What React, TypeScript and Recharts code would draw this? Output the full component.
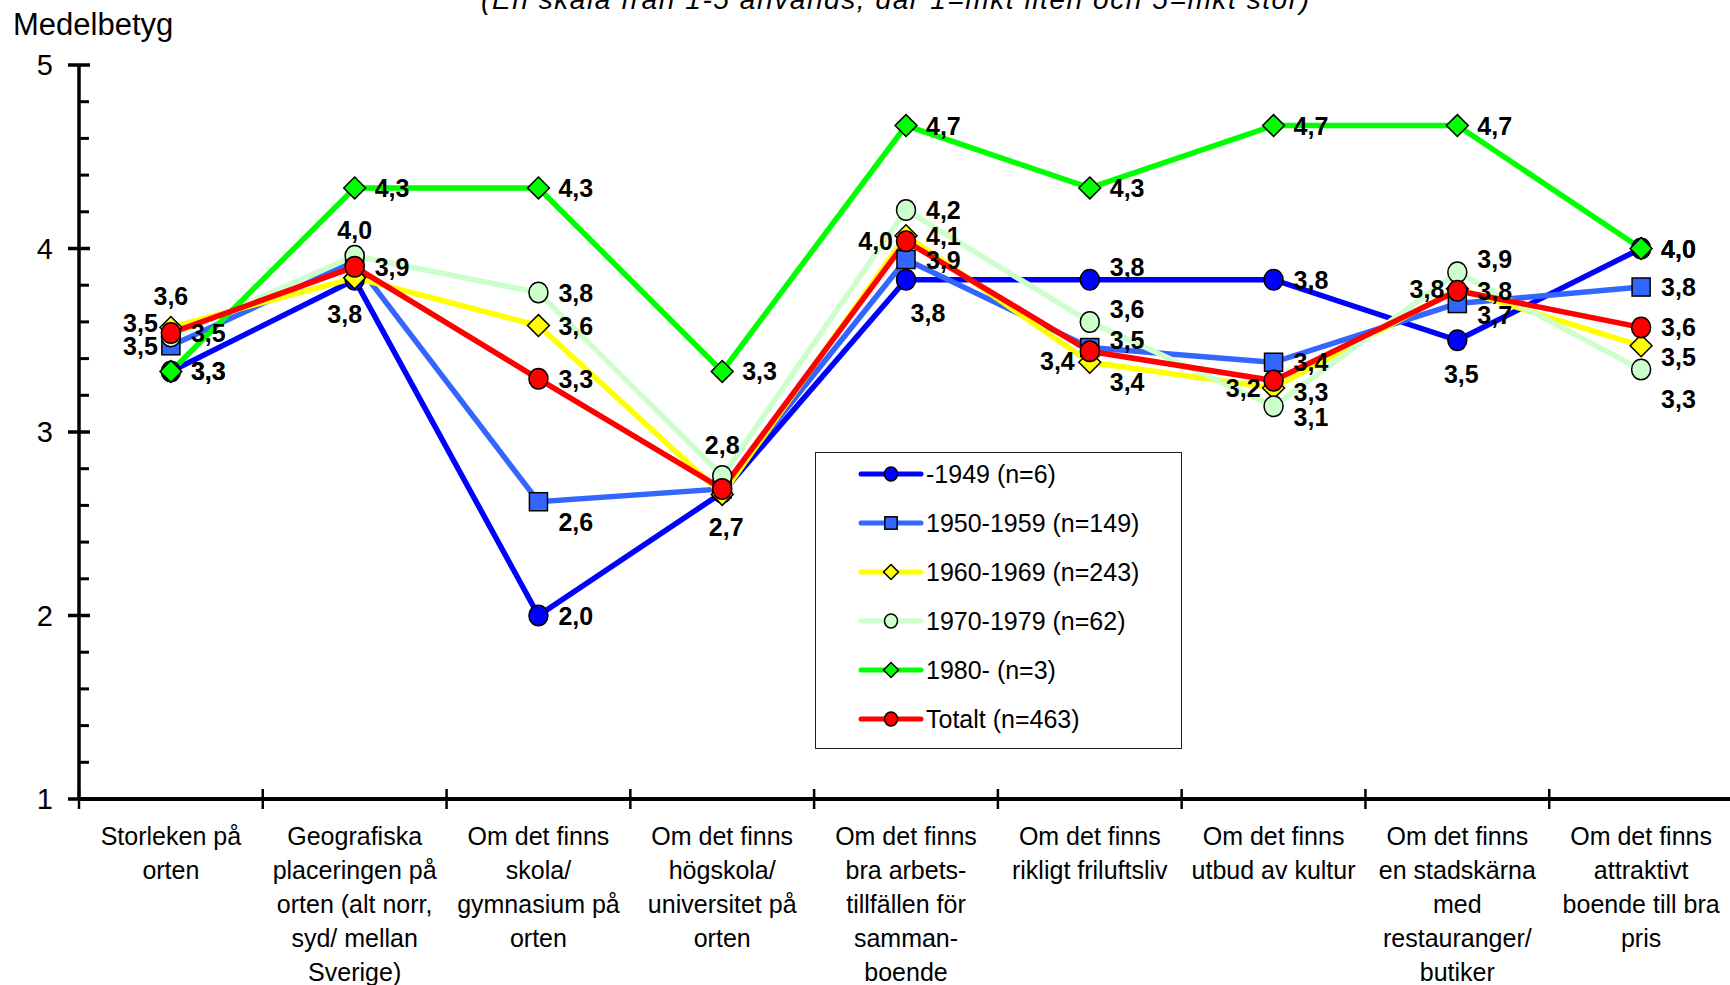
import { LabelList, Legend, Line, LineChart, XAxis, YAxis } from "recharts";

const FONT = '"Liberation Sans", Arial, sans-serif';

const CATEGORIES = [
  "Storleken på\norten",
  "Geografiska\nplaceringen på\norten (alt norr,\nsyd/ mellan\nSverige)",
  "Om det finns\nskola/\ngymnasium på\norten",
  "Om det finns\nhögskola/\nuniversitet på\norten",
  "Om det finns\nbra arbets-\ntillfällen för\nsamman-\nboende",
  "Om det finns\nrikligt friluftsliv",
  "Om det finns\nutbud av kultur",
  "Om det finns\nen stadskärna\nmed\nrestauranger/\nbutiker",
  "Om det finns\nattraktivt\nboende till bra\npris",
];

const SERIES_1949 = [3.33, 3.83, 2.0, 2.67, 3.83, 3.83, 3.83, 3.5, 4.0];
const SERIES_1950 = [3.47, 3.93, 2.62, 2.69, 3.94, 3.46, 3.38, 3.7, 3.79];
const SERIES_1960 = [3.57, 3.84, 3.58, 2.66, 4.07, 3.38, 3.24, 3.78, 3.47];
const SERIES_1970 = [3.52, 3.96, 3.76, 2.76, 4.21, 3.6, 3.14, 3.87, 3.34];
const SERIES_1980 = [3.33, 4.33, 4.33, 3.33, 4.67, 4.33, 4.67, 4.67, 4.0];
const SERIES_TOTAL = [3.54, 3.9, 3.29, 2.69, 4.04, 3.44, 3.28, 3.77, 3.57];

const Y_TICKS = [1, 1.2, 1.4, 1.6, 1.8, 2, 2.2, 2.4, 2.6, 2.8, 3, 3.2, 3.4, 3.6, 3.8, 4, 4.2, 4.4, 4.6, 4.8, 5];

// where each data label sits relative to its marker (n = hidden behind another label)
const LABELS_1949 = ["r", "bL", "r", "b", "bR", "r-", "r", "b", "r"];
const LABELS_1950 = ["l", "n", "rb", "n", "r", "r^", "r", "r+", "r"];
const LABELS_1960 = ["a", "n", "r", "n", "r", "rb", "l", "l", "r+"];
const LABELS_1970 = ["l-", "a2", "r", "a", "r", "r-", "r+", "r-", "rB"];
const LABELS_1980 = ["r", "r", "r", "r", "r", "r", "r", "r", "r"];
const LABELS_TOTAL = ["r", "r", "r", "n", "l", "l+", "r+", "r", "r"];

const LABEL_POS: Record<string, [number, number, string]> = {
  r: [20, 0, "start"],
  "r^": [20, -8, "start"],
  "r-": [20, -13, "start"],
  "r+": [20, 11, "start"],
  rb: [20, 20, "start"],
  rB: [20, 29, "start"],
  l: [-13, 0, "end"],
  "l-": [-13, -14, "end"],
  "l+": [-15, 10, "end"],
  a: [0, -31, "middle"],
  a2: [0, -26, "middle"],
  b: [4, 34, "middle"],
  bL: [-10, 34, "middle"],
  bR: [22, 33, "middle"],
};

const SERIES = [
  { key: "s1949", name: "-1949 (n=6)", color: "#0000ff", shape: "circle", values: SERIES_1949, labels: LABELS_1949 },
  { key: "s1950", name: "1950-1959 (n=149)", color: "#3366ff", shape: "square", values: SERIES_1950, labels: LABELS_1950 },
  { key: "s1960", name: "1960-1969 (n=243)", color: "#ffff00", shape: "diamond", values: SERIES_1960, labels: LABELS_1960 },
  { key: "s1970", name: "1970-1979 (n=62)", color: "#ccffcc", shape: "circle", values: SERIES_1970, labels: LABELS_1970 },
  { key: "s1980", name: "1980- (n=3)", color: "#00ff00", shape: "diamond", values: SERIES_1980, labels: LABELS_1980 },
  { key: "total", name: "Totalt (n=463)", color: "#ff0000", shape: "circle", values: SERIES_TOTAL, labels: LABELS_TOTAL },
];

const PLOT_LEFT = 79;
const PLOT_WIDTH = 1654;
const BAND = PLOT_WIDTH / CATEGORIES.length;

const rows = CATEGORIES.map((name, i) => ({
  name,
  ...Object.fromEntries(SERIES.map((s) => [s.key, s.values[i]])),
}));

const Marker = ({ cx, cy, shape, fill, size }: any) => {
  if (cx == null || cy == null) return null;
  const common = { fill, stroke: "#000", strokeWidth: 1.5 };
  if (shape === "square") {
    return <rect x={cx - size * 0.95} y={cy - size * 0.95} width={size * 1.9} height={size * 1.9} {...common} />;
  }
  if (shape === "diamond") {
    const d = size * 1.15;
    return <polygon points={`${cx},${cy - d} ${cx + d},${cy} ${cx},${cy + d} ${cx - d},${cy}`} {...common} />;
  }
  return <ellipse cx={cx} cy={cy} rx={size} ry={size * 1.08} {...common} />;
};

const renderLabel = (labels: string[]) => (props: any) => {
  const index = props.index;
  const code = labels[index];
  if (!code || code === "n") return null;
  const x = props.x ?? props.viewBox?.x;
  const y = props.y ?? props.viewBox?.y;
  if (x == null || y == null) return null;
  const [dx, dy, anchor] = LABEL_POS[code];
  return (
    <text
      key={`lbl-${index}`}
      x={x + dx}
      y={y + dy}
      textAnchor={anchor}
      dominantBaseline="central"
      fontFamily={FONT}
      fontWeight="bold"
      fontSize={25}
      fill="#000"
    >
      {Number(props.value).toFixed(1).replace(".", ",")}
    </text>
  );
};

const CategoryTick = ({ x, y, payload, index }: any) => {
  const lines = String(payload.value).split("\n");
  const last = index === CATEGORIES.length - 1;
  return (
    <g>
      <line x1={x - BAND / 2} x2={x - BAND / 2} y1={y - 10} y2={y + 10} stroke="#000" strokeWidth={2.5} />
      {last && <line x1={x + BAND / 2} x2={x + BAND / 2} y1={y - 10} y2={y + 10} stroke="#000" strokeWidth={2.5} />}
      <text x={x} y={y + 46} textAnchor="middle" fontFamily={FONT} fontSize={25} fill="#000">
        {lines.map((line, i) => (
          <tspan key={i} x={x} dy={i === 0 ? 0 : 34}>
            {line}
          </tspan>
        ))}
      </text>
    </g>
  );
};

const ValueTick = ({ x, y, payload }: any) => {
  const major = Number.isInteger(payload.value);
  if (!major) {
    return <line x1={x} x2={x + 10} y1={y} y2={y} stroke="#000" strokeWidth={3} />;
  }
  return (
    <g>
      <line x1={x - 11} x2={x + 11} y1={y} y2={y} stroke="#000" strokeWidth={3.5} />
      <text x={x - 26} y={y} textAnchor="end" dominantBaseline="central" fontFamily={FONT} fontSize={29} fill="#000">
        {payload.value}
      </text>
    </g>
  );
};

const LegendBox = () => (
  <svg width={368} height={298}>
    <rect x={0.5} y={0.5} width={366} height={296} fill="#fff" stroke="#222" strokeWidth={1} />
    {SERIES.map((s, i) => {
      const cy = 22 + i * 49;
      return (
        <g key={s.key}>
          <line x1={46} x2={106} y1={cy} y2={cy} stroke={s.color} strokeWidth={5} strokeLinecap="round" />
          <Marker cx={76} cy={cy} shape={s.shape} fill={s.color} size={6.5} />
          <text x={111} y={cy} dominantBaseline="central" fontFamily={FONT} fontSize={25} fill="#000">
            {s.name}
          </text>
        </g>
      );
    })}
  </svg>
);

export default function App() {
  return (
    <div style={{ position: "absolute", left: 0, top: 0, width: 1730, height: 985, overflow: "hidden", background: "#fff" }}>
      <LineChart
        width={PLOT_LEFT + PLOT_WIDTH + 7}
        height={985}
        data={rows}
        margin={{ top: 65, right: 7, left: 0, bottom: 6 }}
      >
        <XAxis
          dataKey="name"
          interval={0}
          padding={{ left: BAND / 2, right: BAND / 2 }}
          height={180}
          tickSize={0}
          tickMargin={0}
          tickLine={false}
          axisLine={{ stroke: "#000", strokeWidth: 4 }}
          tick={<CategoryTick />}
        />
        <YAxis
          type="number"
          domain={[1, 5]}
          ticks={Y_TICKS}
          interval={0}
          width={PLOT_LEFT}
          tickSize={0}
          tickMargin={0}
          tickLine={false}
          axisLine={{ stroke: "#000", strokeWidth: 3.5 }}
          tick={<ValueTick />}
        />
        <Legend
          layout="vertical"
          align="center"
          verticalAlign="middle"
          content={() => <LegendBox />}
          wrapperStyle={{ left: 815, top: 452, width: 368, height: 298 }}
        />
        {SERIES.map((s) => (
          <Line
            key={s.key}
            type="linear"
            dataKey={s.key}
            name={s.name}
            stroke={s.color}
            strokeWidth={5.5}
            isAnimationActive={false}
            activeDot={false}
            dot={(p: any) => <Marker key={`${s.key}-${p.index}`} cx={p.cx} cy={p.cy} shape={s.shape} fill={s.color} size={9.5} />}
          />
        ))}
        {SERIES.map((s) => (
          <Line
            key={`${s.key}-labels`}
            dataKey={s.key}
            stroke="none"
            dot={false}
            activeDot={false}
            legendType="none"
            isAnimationActive={false}
          >
            <LabelList dataKey={s.key} content={renderLabel(s.labels)} />
          </Line>
        ))}
      </LineChart>
      <svg width={1730} height={985} style={{ position: "absolute", left: 0, top: 0, pointerEvents: "none" }}>
        <text x={895} y={9} textAnchor="middle" fontFamily={FONT} fontStyle="italic" fontSize={28} textLength={828} fill="#000">
          (En skala från 1-5 används, där 1=mkt liten och 5=mkt stor)
        </text>
        <text x={13} y={35} fontFamily={FONT} fontSize={31} fill="#000">
          Medelbetyg
        </text>
      </svg>
    </div>
  );
}
